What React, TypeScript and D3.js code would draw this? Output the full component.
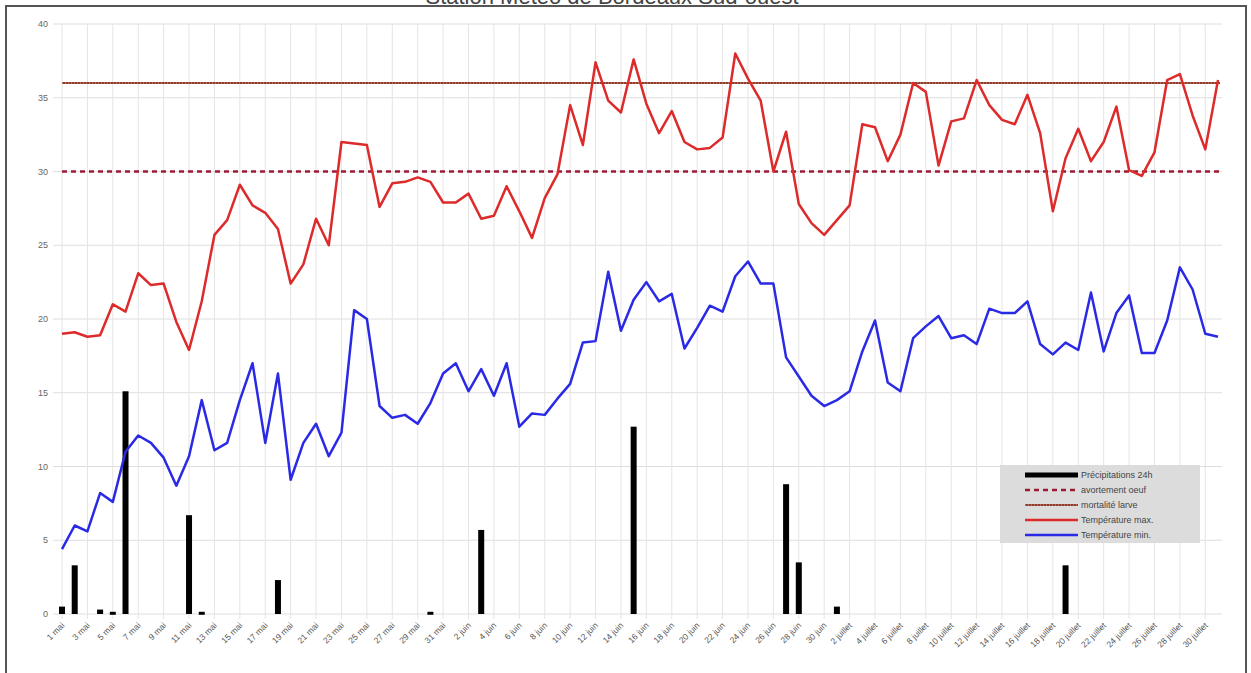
import React from 'react';
import * as d3 from 'd3';

const width = 1251;
const height = 673;

const months: [string, number][] = [['mai', 31], ['juin', 30], ['juillet', 31]];
const days = months.flatMap(([m, n]) => d3.range(1, n + 1).map(d => `${d} ${m}`));
const tickLabels = days.filter((_, i) => i % 2 === 0);

const tMax = [
  19.0, 19.1, 18.8, 18.9, 21.0, 20.5, 23.1, 22.3, 22.4, 19.8,
  17.9, 21.2, 25.7, 26.7, 29.1, 27.7, 27.2, 26.1, 22.4, 23.7,
  26.8, 25.0, 32.0, 31.9, 31.8, 27.6, 29.2, 29.3, 29.6, 29.3,
  27.9, 27.9, 28.5, 26.8, 27.0, 29.0, 27.3, 25.5, 28.2, 29.8,
  34.5, 31.8, 37.4, 34.8, 34.0, 37.6, 34.6, 32.6, 34.1, 32.0,
  31.5, 31.6, 32.3, 38.0, 36.3, 34.8, 30.0, 32.7, 27.8, 26.5,
  25.7, 26.7, 27.7, 33.2, 33.0, 30.7, 32.5, 36.0, 35.4, 30.4,
  33.4, 33.6, 36.2, 34.5, 33.5, 33.2, 35.2, 32.6, 27.3, 30.9,
  32.9, 30.7, 32.0, 34.4, 30.1, 29.7, 31.3, 36.2, 36.6, 33.8,
  31.5, 36.2,
];

const tMin = [
  4.4, 6.0, 5.6, 8.2, 7.6, 11.0, 12.1, 11.6, 10.6, 8.7,
  10.7, 14.5, 11.1, 11.6, 14.5, 17.0, 11.6, 16.3, 9.1, 11.6,
  12.9, 10.7, 12.3, 20.6, 20.0, 14.1, 13.3, 13.5, 12.9, 14.3,
  16.3, 17.0, 15.1, 16.6, 14.8, 17.0, 12.7, 13.6, 13.5, 14.6,
  15.6, 18.4, 18.5, 23.2, 19.2, 21.3, 22.5, 21.2, 21.7, 18.0,
  19.4, 20.9, 20.5, 22.9, 23.9, 22.4, 22.4, 17.4, 16.1, 14.8,
  14.1, 14.5, 15.1, 17.8, 19.9, 15.7, 15.1, 18.7, 19.5, 20.2,
  18.7, 18.9, 18.3, 20.7, 20.4, 20.4, 21.2, 18.3, 17.6, 18.4,
  17.9, 21.8, 17.8, 20.4, 21.6, 17.7, 17.7, 19.9, 23.5, 22.0,
  19.0, 18.8,
];

const precip = [
  0.5, 3.3, 0, 0.3, 0.15, 15.1, 0, 0, 0, 0,
  6.7, 0.15, 0, 0, 0, 0, 0, 2.3, 0, 0,
  0, 0, 0, 0, 0, 0, 0, 0, 0, 0.15,
  0, 0, 0, 5.7, 0, 0, 0, 0, 0, 0,
  0, 0, 0, 0, 0, 12.7, 0, 0, 0, 0,
  0, 0, 0, 0, 0, 0, 0, 8.8, 3.5, 0,
  0, 0.5, 0, 0, 0, 0, 0, 0, 0, 0,
  0, 0, 0, 0, 0, 0, 0, 0, 0, 3.3,
  0, 0, 0, 0, 0, 0, 0, 0, 0, 0,
  0, 0,
];

const avortementOeuf = 30;
const mortaliteLarve = 36;

const legendLabels = [
  'Précipitations 24h',
  'avortement oeuf',
  'mortalité larve',
  'Température max.',
  'Température min.',
];

const font = '"Liberation Sans", Arial, sans-serif';

export default function App() {
  const x = d3.scalePoint<string>().domain(days).range([62, 1218]);
  const y = d3.scaleLinear().domain([0, 40]).range([614, 24]);
  const [x0, x1] = [53, 1222];

  const line = d3
    .line<number>()
    .x((_, i) => x(days[i]) as number)
    .y(d => y(d));

  const legendRows = [475, 490, 505, 520, 535];

  return (
    <svg
      width={width}
      height={height}
      style={{ position: 'absolute', left: 0, top: 0, background: '#fff' }}
      fontFamily={font}
    >
      <text x={612} y={4} textAnchor="middle" fontSize={22} fill="#444">
        Station Météo de Bordeaux Sud-ouest
      </text>
      <rect x={6} y={6} width={1240} height={700} fill="none" stroke="#555" strokeWidth={2} />

      {/* grid */}
      {y.ticks(8).map(t => (
        <g key={'y' + t}>
          <line x1={x0} x2={x1} y1={y(t)} y2={y(t)} stroke="#dedede" />
          <text x={48} y={y(t)} dy="0.35em" textAnchor="end" fontSize={9} fill="#666">
            {t}
          </text>
        </g>
      ))}
      {tickLabels.map(d => (
        <g key={'x' + d}>
          <line x1={x(d)} x2={x(d)} y1={y(40)} y2={y(0) + 5} stroke="#e4e4e4" />
          <text
            transform={`translate(${(x(d) as number) + 3},${y(0) + 12}) rotate(-45)`}
            textAnchor="end"
            fontSize={8.5}
            fill="#555"
          >
            {d}
          </text>
        </g>
      ))}

      {/* precipitation bars */}
      {precip.map((p, i) =>
        p > 0 ? (
          <rect
            key={'b' + i}
            x={(x(days[i]) as number) - 3}
            y={y(p)}
            width={6}
            height={Math.max(y(0) - y(p), 3)}
            fill="#000"
          />
        ) : null
      )}

      {/* thresholds */}
      <line x1={62} x2={1220} y1={y(mortaliteLarve)} y2={y(mortaliteLarve)} stroke="#8e3b2e" strokeWidth={2} />
      <line x1={62} x2={1220} y1={y(mortaliteLarve)} y2={y(mortaliteLarve)} stroke="#d9a07a" strokeWidth={1} strokeDasharray="1,2" />
      <line x1={62} x2={1220} y1={y(avortementOeuf)} y2={y(avortementOeuf)} stroke="#9a1b33" strokeWidth={2.5} strokeDasharray="5,4" />

      <path d={line(tMax) ?? ''} fill="none" stroke="#dd2a2a" strokeWidth={2.5} strokeLinejoin="round" />
      <path d={line(tMin) ?? ''} fill="none" stroke="#2a2ae6" strokeWidth={2.5} strokeLinejoin="round" />

      {/* legend */}
      <rect x={1000} y={465} width={200} height={78} fill="#dcdcdc" />
      {legendLabels.map((l, i) => {
        const ly = legendRows[i];
        return (
          <g key={l}>
            {i === 0 && <line x1={1025} x2={1078} y1={ly} y2={ly} stroke="#000" strokeWidth={5} />}
            {i === 1 && <line x1={1025} x2={1078} y1={ly} y2={ly} stroke="#9a1b33" strokeWidth={2.5} strokeDasharray="5,4" />}
            {i === 2 && (
              <>
                <line x1={1025} x2={1078} y1={ly} y2={ly} stroke="#8e3b2e" strokeWidth={2} />
                <line x1={1025} x2={1078} y1={ly} y2={ly} stroke="#d9a07a" strokeWidth={1} strokeDasharray="1,2" />
              </>
            )}
            {i === 3 && <line x1={1025} x2={1078} y1={ly} y2={ly} stroke="#dd2a2a" strokeWidth={2.5} />}
            {i === 4 && <line x1={1025} x2={1078} y1={ly} y2={ly} stroke="#2a2ae6" strokeWidth={2.5} />}
            <text x={1081} y={ly} dy="0.35em" fontSize={9} fill="#444">
              {l}
            </text>
          </g>
        );
      })}
    </svg>
  );
}
